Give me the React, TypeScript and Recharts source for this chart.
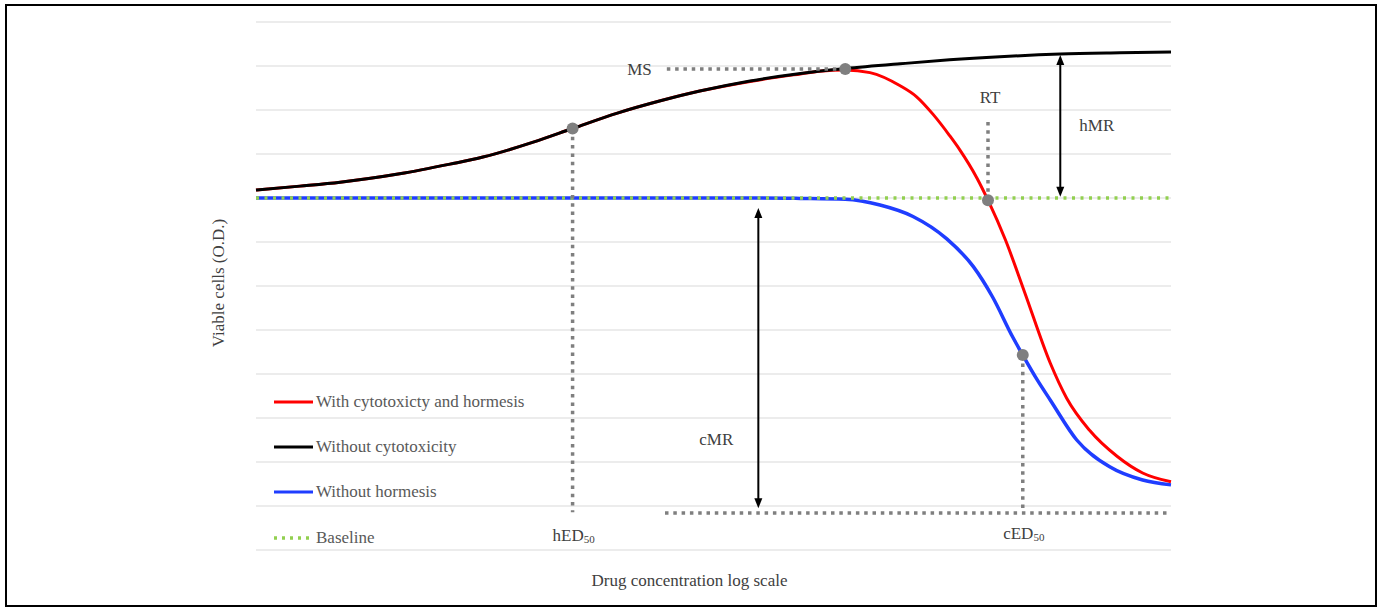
import {
  LineChart,
  Line,
  XAxis,
  YAxis,
  CartesianGrid,
  ReferenceLine,
  ReferenceDot,
  Legend,
} from "recharts";

// x = position on the log concentration axis (0-100), y = optical density units
const RED_X = [0, 4.8, 9.2, 15.7, 21.2, 24.8, 30.3, 34.6, 39.5, 44.2, 48.5, 54, 59.5, 61.6, 64.4, 67.1, 70.4, 72.2, 74, 75.8, 76.9, 78.8, 80, 81.9, 84, 86.8, 88.6, 91.1, 94.1, 96.9, 100];
const RED_Y = [8.18, 8.27, 8.36, 8.55, 8.77, 8.93, 9.27, 9.58, 9.93, 10.21, 10.43, 10.65, 10.82, 10.88, 10.91, 10.85, 10.55, 10.3, 9.9, 9.42, 9.1, 8.45, 7.95, 7.05, 5.86, 4.25, 3.45, 2.72, 2.13, 1.75, 1.55];

const BLACK_X = [0, 4.8, 9.2, 15.7, 21.2, 24.8, 30.3, 34.6, 39.5, 44.2, 48.5, 54, 59.5, 64.4, 70.4, 75.8, 81.3, 87.9, 94.4, 100];
const BLACK_Y = [8.18, 8.27, 8.36, 8.55, 8.77, 8.93, 9.27, 9.58, 9.93, 10.21, 10.43, 10.66, 10.83, 10.94, 11.05, 11.14, 11.21, 11.27, 11.3, 11.32];

const BLUE_X = [0, 20, 40, 55, 59.5, 64.4, 68.2, 71.8, 75.5, 78.4, 80.5, 82.7, 83.8, 85.4, 86.8, 89.7, 93.3, 96.9, 100];
const BLUE_Y = [8, 8, 8, 8, 7.99, 7.97, 7.84, 7.58, 7.07, 6.44, 5.75, 4.84, 4.43, 3.86, 3.41, 2.5, 1.89, 1.59, 1.48];

const BASELINE = 8;
const FLOOR = 0.84;
const Y_MAX = 12;
const Y_TICKS = [0, 1, 2, 3, 4, 5, 6, 7, 8, 9, 10, 11, 12];

// marked points on the curves
const HED50 = { x: 34.6, y: 9.58 };
const MS = { x: 64.4, y: 10.93 };
const RT = { x: 80, y: 7.95 };
const CED50 = { x: 83.8, y: 4.43 };

const SERIES_NAMES = [
  "With cytotoxicty and hormesis",
  "Without cytotoxicity",
  "Without hormesis",
  "Baseline",
];

const FONT = "'Liberation Serif', 'Times New Roman', serif";
const RED = "#ff0000";
const BLACK = "#000000";
const BLUE = "#1f3dff";
const GREEN = "#92d050";
const GRAY = "#7f7f7f";
const TEXT = "#404040";

const zip = (xs: number[], ys: number[]) => xs.map((x, i) => ({ x, y: ys[i] }));

const redData = zip(RED_X, RED_Y);
const blackData = zip(BLACK_X, BLACK_Y);
const blueData = zip(BLUE_X, BLUE_Y);
const baseData = [
  { x: 0, y: BASELINE },
  { x: 100, y: BASELINE },
];

const LEGEND = [
  { name: SERIES_NAMES[0], color: RED, dash: undefined },
  { name: SERIES_NAMES[1], color: BLACK, dash: undefined },
  { name: SERIES_NAMES[2], color: BLUE, dash: undefined },
  { name: SERIES_NAMES[3], color: GREEN, dash: "3 5" },
];

const DOT_LINE = { stroke: GRAY, strokeWidth: 3.5, strokeDasharray: "3.5 4.8" };

// grid rows at every tick of the value axis, placed inside the plot offset
const gridRows = ({ offset }: any) =>
  Y_TICKS.map((t) => offset.top + offset.height * (1 - t / Y_MAX));

const Arrow = (props: any) => {
  const { x1, y1, y2 } = props;
  const top = Math.min(y1, y2);
  const bottom = Math.max(y1, y2);
  return (
    <g>
      <line x1={x1} y1={top + 6} x2={x1} y2={bottom - 6} stroke={BLACK} strokeWidth={2} />
      <path d={`M${x1},${top} L${x1 - 4},${top + 10} L${x1 + 4},${top + 10} Z`} fill={BLACK} />
      <path d={`M${x1},${bottom} L${x1 - 4},${bottom - 10} L${x1 + 4},${bottom - 10} Z`} fill={BLACK} />
    </g>
  );
};

const textAt =
  (text: string, dx: number, dy: number, anchor: string, sub?: string) =>
  (p: any) => (
    <text
      x={p.cx + dx}
      y={p.cy + dy}
      textAnchor={anchor}
      dominantBaseline="central"
      fontFamily={FONT}
      fontSize={17}
      fill={TEXT}
    >
      {text}
      {sub && (
        <tspan fontSize={11} dy={4}>
          {sub}
        </tspan>
      )}
    </text>
  );

const YTitle = (props: any) => {
  const vb = props.viewBox || { x: 0, y: 22, width: 256, height: 528 };
  const cx = vb.x + vb.width - 38;
  const cy = vb.y + vb.height / 2 - 3;
  return (
    <text
      x={cx}
      y={cy}
      transform={`rotate(-90 ${cx} ${cy})`}
      textAnchor="middle"
      dominantBaseline="central"
      fontFamily={FONT}
      fontSize={17}
      fill={TEXT}
    >
      Viable cells (O.D.)
    </text>
  );
};

const XTitle = (props: any) => {
  const vb = props.viewBox || { x: 256, y: 550, width: 915, height: 57 };
  return (
    <text
      x={vb.x + vb.width / 2 - 24}
      y={vb.y + 30}
      textAnchor="middle"
      dominantBaseline="central"
      fontFamily={FONT}
      fontSize={17}
      fill={TEXT}
    >
      Drug concentration log scale
    </text>
  );
};

const LegendBox = () => (
  <div style={{ fontFamily: FONT, fontSize: 17, color: "#595959" }}>
    {LEGEND.map((e) => (
      <div key={e.name} style={{ display: "flex", alignItems: "center", height: 45.3 }}>
        <svg width={42} height={6}>
          <line
            x1={2}
            y1={3}
            x2={41}
            y2={3}
            stroke={e.color}
            strokeWidth={e.dash ? 3.5 : 3}
            strokeDasharray={e.dash}
          />
        </svg>
        <span style={{ marginLeft: 2, whiteSpace: "nowrap" }}>{e.name}</span>
      </div>
    ))}
  </div>
);

export default function App() {
  return (
    <div
      style={{
        position: "absolute",
        left: 0,
        top: 0,
        width: 1377,
        height: 607,
        background: "#fff",
      }}
    >
      <div
        style={{
          position: "absolute",
          left: 5,
          top: 4,
          width: 1372,
          height: 603,
          boxSizing: "border-box",
          border: "2px solid #000",
        }}
      />
      <div style={{ position: "absolute", left: 0, top: 0 }}>
        <LineChart
          width={1377}
          height={607}
          margin={{ top: 22, right: 206, bottom: 0, left: 0 }}
        >
          <CartesianGrid
            vertical={false}
            stroke="#d9d9d9"
            strokeWidth={1}
            horizontalCoordinatesGenerator={gridRows}
          />
          <XAxis
            type="number"
            dataKey="x"
            domain={[0, 100]}
            height={57}
            tick={false}
            tickLine={false}
            axisLine={false}
            label={<XTitle />}
          />
          <YAxis
            type="number"
            domain={[0, Y_MAX]}
            ticks={Y_TICKS}
            width={256}
            tick={false}
            tickLine={false}
            axisLine={false}
            label={<YTitle />}
          />
          <Legend
            layout="vertical"
            align="center"
            verticalAlign="middle"
            content={<LegendBox />}
            wrapperStyle={{ left: 272, top: 379, width: 320, height: 182 }}
          />

          <Line data={redData} dataKey="y" name={SERIES_NAMES[0]} type="monotone" stroke={RED} strokeWidth={3} dot={false} activeDot={false} isAnimationActive={false} />
          <Line data={blackData} dataKey="y" name={SERIES_NAMES[1]} type="monotone" stroke={BLACK} strokeWidth={3} dot={false} activeDot={false} isAnimationActive={false} />
          <Line data={blueData} dataKey="y" name={SERIES_NAMES[2]} type="monotone" stroke={BLUE} strokeWidth={3.5} dot={false} activeDot={false} isAnimationActive={false} />
          <Line data={baseData} dataKey="y" name={SERIES_NAMES[3]} type="linear" stroke={GREEN} strokeWidth={3.5} strokeDasharray="3 5.5" dot={false} activeDot={false} isAnimationActive={false} />

          {/* dotted guide lines */}
          <ReferenceLine segment={[{ x: 44.9, y: MS.y }, { x: MS.x, y: MS.y }]} {...DOT_LINE} />
          <ReferenceLine segment={[{ x: HED50.x, y: HED50.y }, { x: HED50.x, y: 0.86 }]} {...DOT_LINE} />
          <ReferenceLine segment={[{ x: RT.x, y: 9.73 }, { x: RT.x, y: RT.y }]} {...DOT_LINE} />
          <ReferenceLine segment={[{ x: CED50.x, y: CED50.y }, { x: CED50.x, y: 0.86 }]} {...DOT_LINE} />
          <ReferenceLine segment={[{ x: 44.7, y: FLOOR }, { x: 100, y: FLOOR }]} {...DOT_LINE} />

          {/* maximal response arrows */}
          <ReferenceLine segment={[{ x: 87.9, y: 11.25 }, { x: 87.9, y: 8.03 }]} shape={Arrow} />
          <ReferenceLine segment={[{ x: 54.9, y: 7.77 }, { x: 54.9, y: 0.95 }]} shape={Arrow} />

          {[HED50, MS, RT, CED50].map((p, i) => (
            <ReferenceDot key={i} x={p.x} y={p.y} r={6} fill={GRAY} stroke="none" />
          ))}

          <ReferenceDot x={44.9} y={MS.y} shape={textAt("MS", -15, 0, "end")} />
          <ReferenceDot x={RT.x} y={9.73} shape={textAt("RT", 2, -24, "middle")} />
          <ReferenceDot x={87.9} y={9.64} shape={textAt("hMR", 19, 0, "start")} />
          <ReferenceDot x={54.9} y={2.52} shape={textAt("cMR", -42, 0, "middle")} />
          <ReferenceDot x={HED50.x} y={0.86} shape={textAt("hED", 1, 23, "middle", "50")} />
          <ReferenceDot x={CED50.x} y={0.86} shape={textAt("cED", 1, 21, "middle", "50")} />
        </LineChart>
      </div>
    </div>
  );
}
